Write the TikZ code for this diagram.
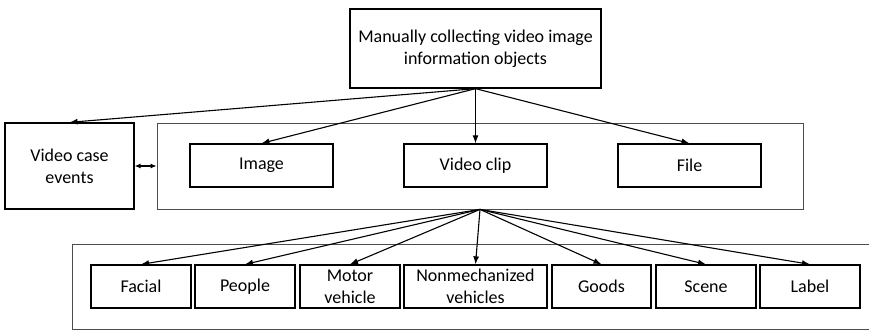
\documentclass[tikz,border=0pt]{standalone}
\usepackage{fontspec}
\setmainfont{Carlito}
\usetikzlibrary{arrows.meta}
\begin{document}
\begin{tikzpicture}[x=1pt,y=-1pt,
  box/.style={draw=black,line width=1.3pt,inner sep=0pt,align=center,
    font=\fontsize{18}{22}\selectfont},
  group/.style={draw=black!70,line width=0.8pt,inner sep=0pt},
  link/.style={line width=1.1pt,-{Latex[length=8pt,width=6pt]}},
  dlink/.style={line width=1.1pt,{Latex[length=6pt,width=5pt]}-{Latex[length=6pt,width=5pt]}}]
\useasboundingbox (0,0) rectangle (869,330);
\begin{scope}
\clip (0,0) rectangle (869,330);
% outer frame of the object categories, running off the right edge
\draw[draw=black!70,line width=0.8pt] (880,244) -- (72,244) -- (72,329) -- (880,329);
\end{scope}
% top level
\node[box,minimum width=251pt,minimum height=79pt] (top) at (475.5,48.5)
  {Manually collecting video image\\information objects};
\node[box,minimum width=129pt,minimum height=86pt] (vce) at (69.5,166)
  {Video case\\events};
\node[group,minimum width=646pt,minimum height=86pt] (mid) at (480,166) {};
% information objects
\node[box,minimum width=143pt,minimum height=43pt] (image) at (261.5,165.5) {Image};
\node[box,minimum width=143pt,minimum height=43pt] (clip) at (475.5,165.5) {Video clip};
\node[box,minimum width=143pt,minimum height=43pt] (file) at (689.5,165.5) {File};
% object categories
\node[box,minimum width=100pt,minimum height=43pt] (facial) at (141,286.5) {Facial};
\node[box,minimum width=100pt,minimum height=43pt] (people) at (245,286.5) {People};
\node[box,minimum width=100pt,minimum height=43pt] (motor) at (350,286.5) {Motor\\vehicle};
\node[box,minimum width=143pt,minimum height=43pt] (nonmech) at (475.5,286.5) {Nonmechanized\\vehicles};
\node[box,minimum width=99pt,minimum height=43pt] (goods) at (601.5,286.5) {Goods};
\node[box,minimum width=100pt,minimum height=43pt] (scene) at (706,286.5) {Scene};
\node[box,minimum width=100pt,minimum height=43pt] (label) at (810,286.5) {Label};
% connectors
\foreach \t in {vce,image,clip,file}
  \draw[link] (top.south) -- (\t.north);
\foreach \t in {facial,people,motor,nonmech,goods,scene,label}
  \draw[link] (mid.south) -- (\t.north);
\draw[dlink] (vce.east) -- (mid.west);
\end{tikzpicture}
\end{document}
